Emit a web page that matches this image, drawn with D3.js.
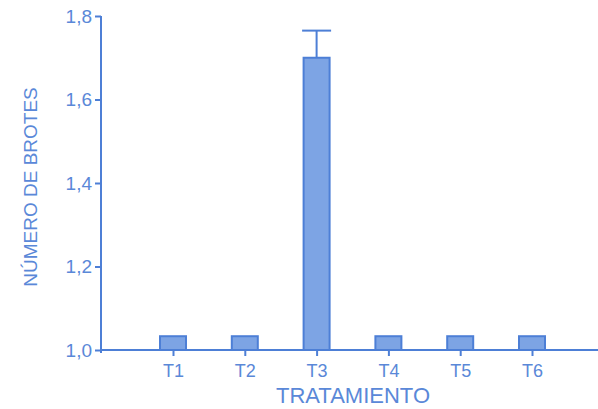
<!DOCTYPE html>
<html>
<head>
<meta charset="utf-8">
<script src="https://cdn.jsdelivr.net/npm/d3@7"></script>
<style>
  html, body { margin: 0; padding: 0; background: #ffffff; }
  svg { display: block; }
  text { font-family: "Liberation Sans", Arial, sans-serif; }
</style>
</head>
<body>
<svg id="chart" width="598" height="409"></svg>
<script>
// Treatments and mean number of shoots, with the one error bar (T3)
const categories = ["T1", "T2", "T3", "T4", "T5", "T6"];
const means = [1.033, 1.033, 1.70, 1.033, 1.033, 1.033];
const errorTop = [null, null, 1.765, null, null, null];
const yTicks = [1.0, 1.2, 1.4, 1.6, 1.8];

const lineColor = "#4d7fd6";
const textColor = "#5a88d8";
const fillColor = "#7da4e4";

const svg = d3.select("#chart");

const x = d3.scalePoint().domain(categories).range([173, 532]);
const y = d3.scaleLinear().domain([1.0, 1.8]).range([350, 16]);
const barW = 26;
const capW = 29;

// Bars
svg.append("g").selectAll("rect")
  .data(categories.map((c, i) => ({ c, v: means[i] })))
  .join("rect")
  .attr("x", d => x(d.c) - barW / 2)
  .attr("y", d => y(d.v))
  .attr("width", barW)
  .attr("height", d => y(1.0) - y(d.v))
  .attr("fill", fillColor)
  .attr("stroke", lineColor)
  .attr("stroke-width", 2);

// Error bars (upper whisker only)
const errs = categories.map((c, i) => ({ c, v: means[i], e: errorTop[i] })).filter(d => d.e != null);
const eg = svg.append("g").attr("stroke", lineColor).attr("stroke-width", 2);
eg.selectAll("line.stem").data(errs).join("line")
  .attr("class", "stem")
  .attr("x1", d => x(d.c)).attr("x2", d => x(d.c))
  .attr("y1", d => y(d.v)).attr("y2", d => y(d.e));
eg.selectAll("line.cap").data(errs).join("line")
  .attr("class", "cap")
  .attr("x1", d => x(d.c) - capW / 2).attr("x2", d => x(d.c) + capW / 2)
  .attr("y1", d => y(d.e)).attr("y2", d => y(d.e));

// Y axis
const yAxis = svg.append("g")
  .attr("transform", "translate(101,0)")
  .call(d3.axisLeft(y).tickValues(yTicks).tickSize(6).tickPadding(3)
    .tickFormat(d => d3.format(".1f")(d).replace(".", ",")));
yAxis.select(".domain").attr("stroke", lineColor).attr("stroke-width", 2)
  .attr("d", `M0,${y(1.8)}V${y(1.0) + 3}`);
yAxis.selectAll(".tick line").attr("stroke", lineColor).attr("stroke-width", 2);
yAxis.selectAll(".tick text").attr("fill", textColor).style("font-size", "19px");

// X axis
const xAxis = svg.append("g")
  .attr("transform", `translate(0,${y(1.0)})`)
  .call(d3.axisBottom(x).tickSize(6).tickPadding(8));
xAxis.select(".domain").attr("stroke", lineColor).attr("stroke-width", 2)
  .attr("d", "M100,0H598");
xAxis.selectAll(".tick line").attr("stroke", lineColor).attr("stroke-width", 2);
xAxis.selectAll(".tick text").attr("fill", textColor).style("font-size", "18px");

// Axis titles
svg.append("text")
  .attr("x", 353).attr("y", 403)
  .attr("text-anchor", "middle")
  .attr("fill", textColor).style("font-size", "22px")
  .text("TRATAMIENTO");

svg.append("text")
  .attr("transform", "translate(37,187) rotate(-90)")
  .attr("text-anchor", "middle")
  .attr("fill", textColor).style("font-size", "19px")
  .text("NÚMERO DE BROTES");
</script>
</body>
</html>
